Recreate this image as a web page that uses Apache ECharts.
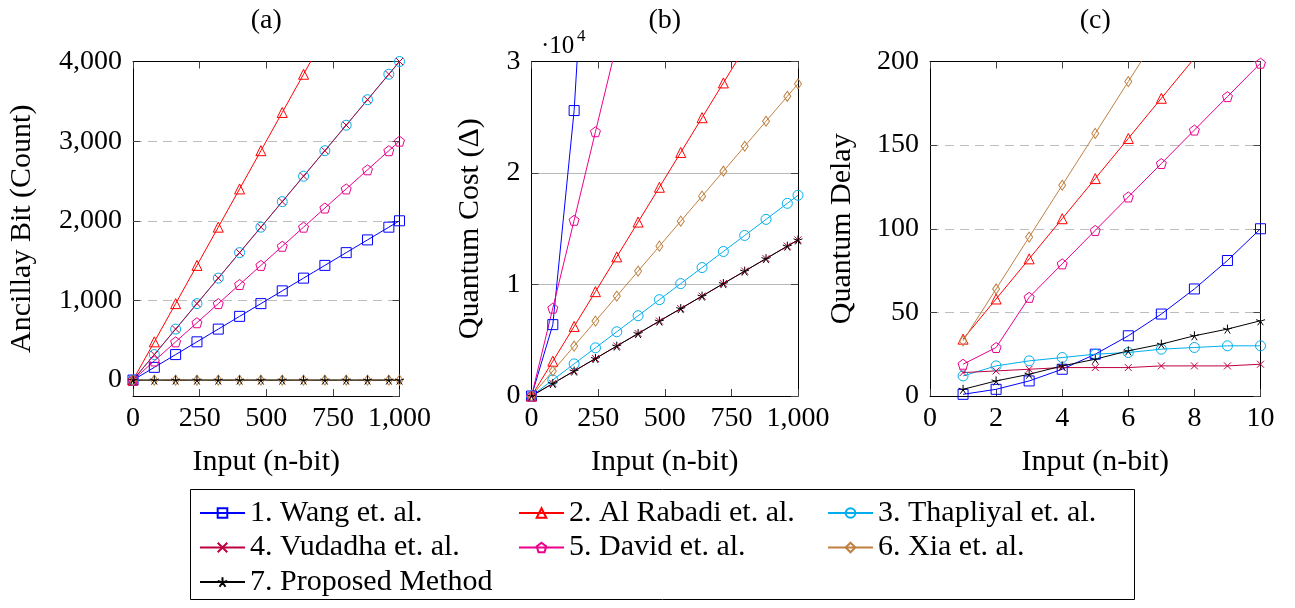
<!DOCTYPE html>
<html><head><meta charset="utf-8">
<script src="https://cdn.jsdelivr.net/npm/echarts@6/dist/echarts.min.js"></script>
<style>html,body{margin:0;padding:0;background:#fff}#c{width:1295px;height:608px}</style>
</head><body><div id="c"></div>
<script>
// ---------- data ----------
const seriesNames = ['1. Wang et. al.','2. Al Rabadi et. al.','3. Thapliyal et. al.','4. Vudadha et. al.','5. David et. al.','6. Xia et. al.','7. Proposed Method'];
const panelTitles = ['(a)','(b)','(c)'];
const yAxisNames = ['Ancillay Bit (Count)','Quantum Cost (\u0394)','Quantum Delay'];
const xAxisName = 'Input (n-bit)';

const inputBits = [0,80,160,240,320,400,480,560,640,720,800,880,960,1000];
const delayBits = [1,2,3,4,5,6,7,8,9,10];

// (a) Ancilla bits
const ancWang      = [0,160,320,480,640,800,960,1120,1280,1440,1600,1760,1920,2000];
const ancAlRabadi  = [0,480,960,1440,1920,2400,2880,3360,3840,4320,4800,5280,5760,6000];
const ancThapliyal = [0,320,640,960,1280,1600,1920,2240,2560,2880,3200,3520,3840,4000];
const ancVudadha   = [0,320,640,960,1280,1600,1920,2240,2560,2880,3200,3520,3840,4000];
const ancDavid     = [0,240,480,720,960,1200,1440,1680,1920,2160,2400,2640,2880,3000];
const ancXia       = [0,0,0,0,0,0,0,0,0,0,0,0,0,0];
const ancProposed  = [0,0,0,0,0,0,0,0,0,0,0,0,0,0];

// (b) Quantum cost
const costWang      = [0,6400,25600,57600,102400,160000,230400,313600,409600,518400,640000,774400,921600,1000000];
const costAlRabadi  = [0,3120,6240,9360,12480,15600,18720,21840,24960,28080,31200,34320,37440,39000];
const costThapliyal = [0,1440,2880,4320,5760,7200,8640,10080,11520,12960,14400,15840,17280,18000];
const costVudadha   = [0,1120,2240,3360,4480,5600,6720,7840,8960,10080,11200,12320,13440,14000];
const costDavid     = [0,7880,15760,23700,31600,39400,47300,55200,63100,71000,78900,86800,94600,98600];
const costXia       = [0,2240,4480,6720,8960,11200,13440,15680,17920,20160,22400,24640,26880,28000];
const costProposed  = [0,1120,2240,3360,4480,5600,6720,7840,8960,10080,11200,12320,13440,14000];

// (c) Quantum delay
const delayWang      = [1,4,9,16,25,36,49,64,81,100];
const delayAlRabadi  = [34,58,82,106,130,154,178,202,226,250];
const delayThapliyal = [12,18,21,23,25,26,28,29,30,30];
const delayVudadha   = [14,15,16,17,17,17,18,18,18,19];
const delayDavid     = [19,29,59,79,99,119,139,159,179,199];
const delayXia       = [33,64,95,126,157,188,219,250,281,312];
const delayProposed  = [4,9,13,18,22,27,31,36,40,45];

// tick labels
const xTicksBits  = [0,250,500,750,1000];
const yTicksAnc   = [0,1000,2000,3000,4000];
const yTicksCost  = [0,10000,20000,30000];
const xTicksDelay = [0,2,4,6,8,10];
const yTicksDelay = [0,50,100,150,200];

// ---------- styles ----------
const FONT = 'Liberation Serif';
const colors = ['#0000ff','#ff0000','#00aeef','#bf0040','#ec008c','#bf8040','#000000'];
const symbols = [
  'rect','triangle','circle',
  'path://M0,0L10,10M10,0L0,10',
  'path://M5,0L9.755,3.455L7.939,9.045L2.061,9.045L0.245,3.455Z',
  'diamond',
  'path://M5,0L5,5M5,5L9.755,3.455M5,5L7.939,9.045M5,5L2.061,9.045M5,5L0.245,3.455'
];
const symbolSizes = [10,10,10,7,10,[7,10],9];

const grids = [
  {left:133, top:61.5, width:266.5, height:334.5},
  {left:531.5, top:61.5, width:266.5, height:334.5},
  {left:930, top:61.5, width:330.5, height:334.5}
];

function commas(v){
  const s = String(Math.round(Math.abs(v)));
  return (v<0?'-':'') + s.replace(/\B(?=(\d{3})+(?!\d))/g, ',');
}

const labelStyle = {fontFamily:FONT, fontSize:28, color:'#000'};
const nameStyle = {fontFamily:FONT, fontSize:30, color:'#000'};
const tickStyle = {show:true, inside:true, length:7, lineStyle:{color:'#444', width:1}};
const frameLine = {show:true, onZero:false, lineStyle:{color:'#000', width:1}};

function xAxes(gi, min, max, interval, ticks, fmt){
  return [
    {type:'value', gridIndex:gi, min, max, interval, position:'bottom', z:1,
     axisLine:frameLine, axisTick:tickStyle, splitLine:{show:false},
     axisLabel:Object.assign({margin:9, formatter:v=>ticks.includes(v)?fmt(v):''}, labelStyle),
     name:xAxisName, nameLocation:'middle', nameGap:51, nameTextStyle:nameStyle},
    {type:'value', gridIndex:gi, min, max, interval, position:'top', z:1,
     axisLine:frameLine, axisTick:tickStyle,
     axisLabel:{show:false}, splitLine:{show:false}}
  ];
}
function yAxes(gi, min, max, interval, ticks, fmt, nameGap, split){
  const base = {type:'value', gridIndex:gi, min, max};
  if (interval) base.interval = interval; else base.splitNumber = 4;
  return [
    Object.assign({}, base, {position:'left',
     axisLine:frameLine, axisTick:tickStyle, splitLine:split,
     axisLabel:Object.assign({margin:11, formatter:v=>ticks.includes(v)?fmt(v):''}, labelStyle),
     name:yAxisNames[gi], nameLocation:'middle', nameGap:nameGap, nameTextStyle:nameStyle}),
    Object.assign({}, base, {position:'right', z:1,
     axisLine:frameLine, axisTick:tickStyle,
     axisLabel:{show:false}, splitLine:{show:false}})
  ];
}

const dashedSplit = {show:true, lineStyle:{color:'#bdbdbd', width:1, type:[9,6]}};
const solidSplit = {show:true, lineStyle:{color:'#b8b8b8', width:1}};

const xAxis = [].concat(
  xAxes(0, 0, 1000, 250, xTicksBits, commas),
  xAxes(1, 0, 1000, 250, xTicksBits, commas),
  xAxes(2, 0, 10, 2, xTicksDelay, v=>String(v))
);
const yAxis = [].concat(
  yAxes(0, -200, 4000, null, yTicksAnc, commas, 96, dashedSplit),
  yAxes(1, 0, 30000, 10000, yTicksCost, v=>String(v/10000), 46, solidSplit),
  yAxes(2, 0, 200, 50, yTicksDelay, v=>String(v), 73, dashedSplit)
);

const panels = [
  {x: inputBits, ys: [ancWang, ancAlRabadi, ancThapliyal, ancVudadha, ancDavid, ancXia, ancProposed]},
  {x: inputBits, ys: [costWang, costAlRabadi, costThapliyal, costVudadha, costDavid, costXia, costProposed]},
  {x: delayBits, ys: [delayWang, delayAlRabadi, delayThapliyal, delayVudadha, delayDavid, delayXia, delayProposed]}
];

const series = [];
panels.forEach((p, gi) => {
  p.ys.forEach((ys, i) => {
    series.push({
      name: seriesNames[i], type:'line',
      xAxisIndex: gi*2, yAxisIndex: gi*2,
      data: p.x.map((xv, k) => [xv, ys[k]]),
      symbol: symbols[i], symbolSize: symbolSizes[i], showSymbol:true, showAllSymbol:true,
      lineStyle:{color: colors[i], width:1},
      itemStyle:{color:'rgba(255,255,255,0)', borderColor: colors[i], borderWidth:1},
      emphasis:{disabled:true}, clip:true, silent:true, z:3
    });
  });
});

const legendCommon = {orient:'vertical', padding:0, itemWidth:45, itemHeight:12, itemGap:4.5,
  textStyle:{fontFamily:FONT, fontSize:30, color:'#000', lineHeight:30}, selectedMode:false};
const legend = [
  Object.assign({left:199, top:498, data:[seriesNames[0], seriesNames[3], seriesNames[6]]}, legendCommon),
  Object.assign({left:518, top:498, data:[seriesNames[1], seriesNames[4]]}, legendCommon),
  Object.assign({left:827, top:498, data:[seriesNames[2], seriesNames[5]]}, legendCommon)
];

const graphic = [
  {type:'rect', shape:{x:190.5, y:489.5, width:944, height:110}, style:{fill:'none', stroke:'#000', lineWidth:1}, silent:true},
  {type:'text', x:541, y:34, style:{text:'\u00b710', fontFamily:FONT, fontSize:25, fill:'#000'}},
  {type:'text', x:577, y:28, style:{text:'4', fontFamily:FONT, fontSize:17, fill:'#000'}}
];
panelTitles.forEach((t, gi) => {
  const g = grids[gi];
  graphic.push({type:'text', x: g.left + g.width/2, y: 21,
    style:{text:t, fontFamily:FONT, fontSize:28, fill:'#000', textAlign:'center', textVerticalAlign:'middle'}});
});

const chart = echarts.init(document.getElementById('c'), null, {renderer:'canvas'});
chart.setOption({
  animation:false,
  backgroundColor:'#fff',
  grid: grids.map(g => Object.assign({show:false, containLabel:false}, g)),
  xAxis, yAxis, series, legend, graphic
});
</script></body></html>
